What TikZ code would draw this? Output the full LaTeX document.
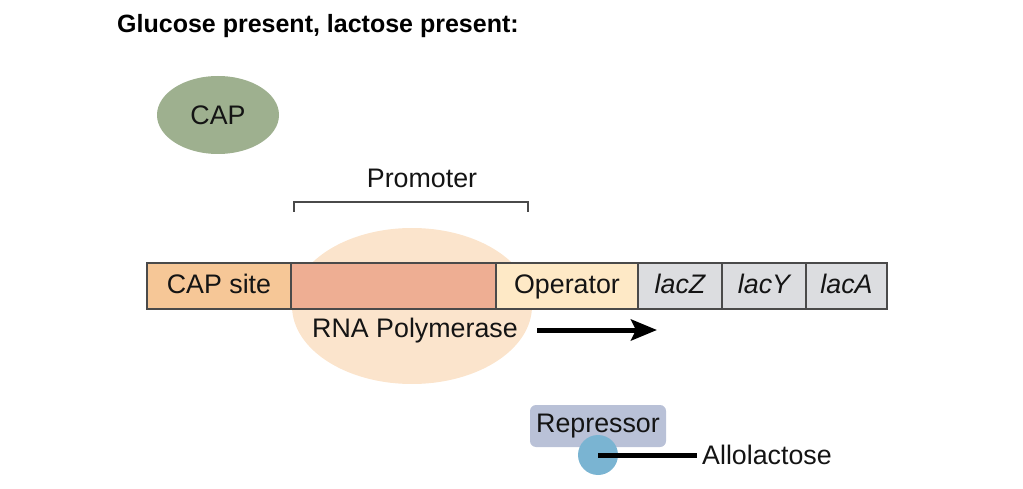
\documentclass[tikz,border=0pt]{standalone}
\usepackage{fontspec}
\setmainfont{Liberation Sans}
\usetikzlibrary{arrows.meta,positioning,shapes.geometric}
\definecolor{capgreen}{HTML}{9EB08F}
\definecolor{rnapeach}{HTML}{FBE4CC}
\definecolor{capsiteorange}{HTML}{F6C797}
\definecolor{promsalmon}{HTML}{EEAE93}
\definecolor{opcream}{HTML}{FEE9C6}
\definecolor{genegrey}{HTML}{DCDDE0}
\definecolor{represblue}{HTML}{B9C1D7}
\definecolor{alloblue}{HTML}{7AB4D2}
\definecolor{edgegrey}{HTML}{4A4A4A}

\begin{document}
\begin{tikzpicture}[x=1pt, y=-1pt, node distance=0pt,
  every node/.style={font=\fontsize{26.8}{30}\selectfont, align=center, text=black!92},
  dnabox/.style={draw=edgegrey, line width=1.5pt, minimum height=46pt, inner sep=0pt, outer sep=0pt, text height=19pt, text depth=5pt},
  >=Latex]
  \useasboundingbox (0,0) rectangle (1023,489);
  \node[anchor=base west, inner sep=0pt, font=\fontsize{25}{30}\selectfont\bfseries, text=black] (title) at (117,33) {Glucose present, lactose present:};
  \node[ellipse, fill=capgreen, minimum width=122pt, minimum height=78pt, inner sep=0pt] (cap) at (218,115) {CAP};
  % polymerase sits behind the DNA bar
  \node[ellipse, fill=rnapeach, minimum width=240pt, minimum height=156pt] (rnap) at (412,306) {};
  \node[dnabox, fill=capsiteorange, minimum width=144pt] (capsite) at (219,286) {CAP site};
  \node[dnabox, fill=promsalmon, minimum width=205pt, right=of capsite] (prom) {};
  \node[dnabox, fill=opcream, minimum width=142pt, right=of prom] (operator) {Operator};
  \node[dnabox, fill=genegrey, minimum width=84pt, right=of operator] (lacz) {\itshape lacZ};
  \node[dnabox, fill=genegrey, minimum width=84pt, right=of lacz] (lacy) {\itshape lacY};
  \node[dnabox, fill=genegrey, minimum width=81pt, right=of lacy] (laca) {\itshape lacA};
  \node[anchor=base] (rnaplabel) at (415,337) {RNA Polymerase};
  \coordinate (promL) at (294,202);
  \coordinate (promR) at (528,202);
  \draw[line width=1.3pt, edgegrey] ([yshift=-10pt]promL) -- (promL) -- (promR) -- ([yshift=-10pt]promR);
  \node[anchor=base] (promlabel) at (422,188) {Promoter};
  \coordinate (txstart) at (537,330);
  \coordinate (txend) at (657,330);
  \draw[-{Stealth[length=26pt,width=21pt,inset=5pt]}, line width=5pt] (txstart) -- (txend);
  \node[fill=represblue, rounded corners=6pt, minimum width=136pt, minimum height=42pt, inner sep=0pt] (repressor) at (598,426) {Repressor};
  \node[circle, fill=alloblue, minimum size=40pt, inner sep=0pt] (allo) at (598,455) {};
  \node[anchor=west, inner sep=5pt] (allolabel) at (697,455) {Allolactose};
  \draw[line width=5pt] (allo.center) -- (allolabel.west);
\end{tikzpicture}
\end{document}
